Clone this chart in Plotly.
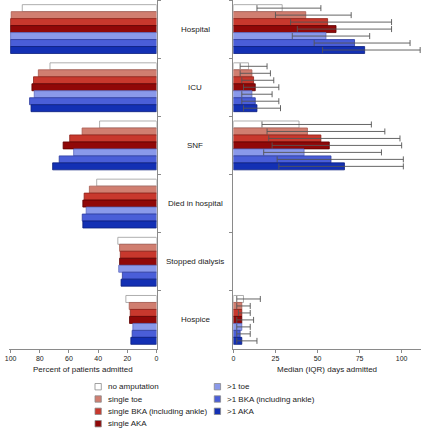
import plotly.graph_objects as go

W, H = 423, 429

categories = ["Hospital", "ICU", "SNF", "Died in hospital", "Stopped dialysis", "Hospice"]
series = ["no amputation", "single toe", "single BKA (including ankle)", "single AKA",
          ">1 toe", ">1 BKA (including ankle)", ">1 AKA"]
fill_colors = ["#FFFFFF", "#D07E70", "#C8382D", "#900808", "#8A99EA", "#4A5ED8", "#1330B4"]
line_colors = ["#9A9A9A", "#A85C50", "#8E2219", "#5E0000", "#5E6BC0", "#2D3C9E", "#0B1E7E"]

# Percent of patients admitted (rows = series, cols = categories)
pct_admitted = [
    [92, 73, 39, 41, 26.5, 21],
    [99.6, 81, 51, 46, 25.3, 18.7],
    [100, 84.3, 59.5, 49.6, 24.8, 18],
    [100, 85.4, 64, 50.5, 25.3, 18.5],
    [100, 83.8, 56.8, 48.2, 25.9, 16.2],
    [100, 87, 66.7, 50.9, 23.4, 16.7],
    [100, 86, 71.2, 50.5, 24.3, 17.6],
]

# Median (IQR) days admitted; None where not reported
days_median = [
    [29, 9, 39, None, None, 6],
    [43, 11, 44, None, None, 5],
    [56, 12, 52, None, None, 5],
    [61, 13, 57, None, None, 5],
    [55, 11, 42, None, None, 5],
    [72, 13, 58, None, None, 4],
    [78, 14, 66, None, None, 5],
]
days_q1 = [
    [14, 4, 17, None, None, 2],
    [25, 4, 20, None, None, 2],
    [34, 5, 21, None, None, 3],
    [38, 6, 23, None, None, 2],
    [35, 5, 18, None, None, 2],
    [48, 5, 26, None, None, 2],
    [53, 6, 27, None, None, 2],
]
days_q3 = [
    [52, 20, 82, None, None, 16],
    [70, 22, 90, None, None, 10],
    [94, 24, 99, None, None, 10],
    [94, 27, 100, None, None, 12],
    [81, 23, 88, None, None, 10],
    [105, 27, 101, None, None, 10],
    [111, 28, 101, None, None, 14],
]

left_ticks = [100, 80, 60, 40, 20, 0]
right_ticks = [0, 25, 50, 75, 100]

FONT = "Arial, Liberation Sans, sans-serif"
TXT = "#222222"
AX = "#8A8A8A"

fig = go.Figure()
for i, name in enumerate(series):
    fig.add_trace(go.Bar(
        y=categories, x=pct_admitted[i], orientation="h", name=name,
        marker=dict(color=fill_colors[i], line=dict(color=line_colors[i], width=0.8)),
        xaxis="x", yaxis="y", showlegend=False))
for i, name in enumerate(series):
    med = days_median[i]
    plus = [None if m is None else q - m for m, q in zip(med, days_q3[i])]
    minus = [None if m is None else m - q for m, q in zip(med, days_q1[i])]
    fig.add_trace(go.Bar(
        y=categories, x=med, orientation="h", name=name,
        marker=dict(color=fill_colors[i], line=dict(color=line_colors[i], width=0.8)),
        error_x=dict(type="data", symmetric=False, array=plus, arrayminus=minus,
                     color="#555555", thickness=0.9, width=3),
        xaxis="x2", yaxis="y2", showlegend=False))

plot_bottom = 349
ydom = [(H - plot_bottom) / H, 1.0]

axis_common = dict(showgrid=False, zeroline=False, showline=True, linecolor=AX, linewidth=1,
                   ticks="outside", ticklen=3, tickcolor=AX, tickwidth=1,
                   tickfont=dict(family=FONT, size=7, color=TXT))

fig.update_layout(
    width=W, height=H, margin=dict(l=0, r=0, t=0, b=0),
    paper_bgcolor="white", plot_bgcolor="white",
    barmode="group", bargap=0.16, bargroupgap=0,
    showlegend=False,
    font=dict(family=FONT, size=8, color=TXT),
    xaxis=dict(domain=[5 / W, 154.7 / W], range=[101.15, 0], tickvals=left_ticks,
               anchor="y", **axis_common),
    xaxis2=dict(domain=[232.7 / W, 1.0], range=[0, 111.5], tickvals=right_ticks,
                anchor="y2", **axis_common),
    yaxis=dict(domain=ydom, type="category", autorange="reversed", side="right",
               anchor="x", showticklabels=False, tickson="boundaries",
               showgrid=False, zeroline=False, showline=True, linecolor=AX,
               ticks="outside", ticklen=3, tickcolor=AX),
    yaxis2=dict(domain=ydom, type="category", autorange="reversed", side="left",
                anchor="x2", showticklabels=False, tickson="boundaries",
                showgrid=False, zeroline=False, showline=True, linecolor=AX,
                ticks="outside", ticklen=3, tickcolor=AX),
)

annotations = []
for c in categories:
    annotations.append(dict(x=194 / W, xref="paper", y=c, yref="y", text=c, showarrow=False,
                            xanchor="center", yanchor="middle",
                            font=dict(family=FONT, size=8, color=TXT)))
annotations.append(dict(x=80.5 / W, xref="paper", y=1 - 369.5 / H, yref="paper",
                        text="Percent of patients admitted", showarrow=False,
                        xanchor="center", yanchor="middle", font=dict(family=FONT, size=8, color=TXT)))
annotations.append(dict(x=327.5 / W, xref="paper", y=1 - 369.5 / H, yref="paper",
                        text="Median (IQR) days admitted", showarrow=False,
                        xanchor="center", yanchor="middle", font=dict(family=FONT, size=8, color=TXT)))

# manual two-column legend
shapes = []
col_x = [95.5, 216.5]
row_y = [386.7, 399, 411.3, 423.7]
for i, name in enumerate(series):
    col = 0 if i < 4 else 1
    row = i if i < 4 else i - 4
    cx, cy = col_x[col], row_y[row]
    s = 3.2
    shapes.append(dict(type="rect", xref="paper", yref="paper",
                       x0=(cx - s) / W, x1=(cx + s) / W, y0=1 - (cy + s) / H, y1=1 - (cy - s) / H,
                       fillcolor=fill_colors[i], line=dict(color="#8A8A8A", width=0.8)))
    annotations.append(dict(x=(cx + 8) / W, xref="paper", y=1 - cy / H, yref="paper",
                            text=name, showarrow=False, xanchor="left", yanchor="middle",
                            font=dict(family=FONT, size=8, color=TXT)))

fig.update_layout(annotations=annotations, shapes=shapes)
fig.write_html("out.html", config={"displayModeBar": False},
               post_script="document.body.style.margin='0';document.body.style.overflow='hidden';")
